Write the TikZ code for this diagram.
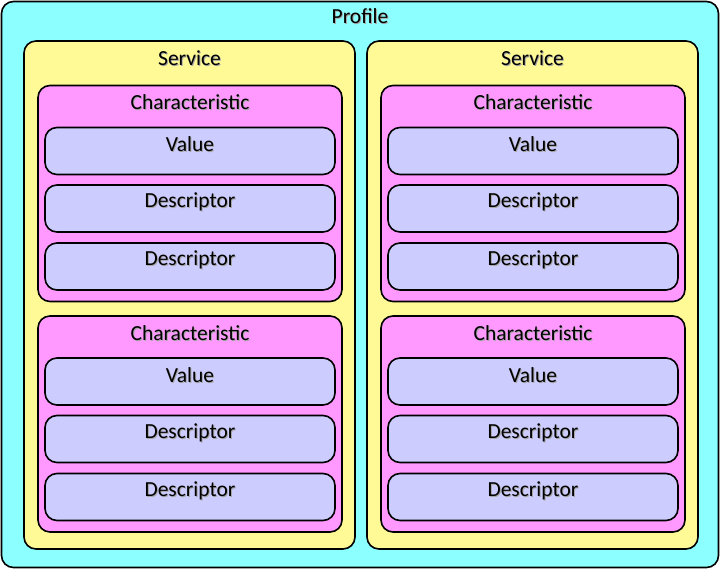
\documentclass[tikz,border=0pt]{standalone}
\usepackage{fontspec}
\setmainfont{Carlito}
\definecolor{profilecol}{RGB}{140,255,255}
\definecolor{servicecol}{RGB}{255,250,150}
\definecolor{charcol}{RGB}{255,153,255}
\definecolor{fieldcol}{RGB}{204,204,255}
\newcommand{\shtext}[1]{\makebox[0pt][l]{\hspace{1pt}\raisebox{-1pt}{\textcolor{black!35}{#1}}}#1}
\tikzset{
  box/.style={draw=black, line width=1.6pt, rounded corners=12pt, inner sep=0pt},
  profilebox/.style={box, fill=profilecol, minimum width=717pt, minimum height=566pt},
  servicebox/.style={box, fill=servicecol, minimum width=331pt, minimum height=508pt},
  charbox/.style={box, fill=charcol, minimum width=304pt, minimum height=216pt},
  fieldbox/.style={box, fill=fieldcol, minimum width=290pt, minimum height=47pt},
  title/.style={font=\fontsize{21.5}{25}\selectfont, inner sep=0pt}
}
\begin{document}
\begin{tikzpicture}[x=1pt, y=-1pt]
  \useasboundingbox (0,0) rectangle (720,569);
  \node[profilebox] (profile) at (360,284.5) {};
  \node[title] (profile-t) at (360,17) {\shtext{Profile}};
  \foreach \sx/\sn in {189.5/L, 532.5/R} {
    \node[servicebox] (service-\sn) at (\sx,295) {};
    \node[title] (service-\sn-t) at (\sx,59) {\shtext{Service}};
    \foreach \cy/\cn in {193.5/a, 424/b} {
      \node[charbox] (char-\sn-\cn) at (\sx+0.5,\cy) {};
      \node[title] (char-\sn-\cn-t) at (\sx+0.5,\cy-90.5) {\shtext{Characteristic}};
      \node[fieldbox] (value-\sn-\cn) at (\sx+0.5,\cy-42.5) {};
      \node[title] (value-\sn-\cn-t) at (\sx+0.5,\cy-48.5) {\shtext{Value}};
      \node[fieldbox] (desca-\sn-\cn) at (\sx+0.5,\cy+15) {};
      \node[title] (desca-\sn-\cn-t) at (\sx+0.5,\cy+9) {\shtext{Descriptor}};
      \node[fieldbox] (descb-\sn-\cn) at (\sx+0.5,\cy+73) {};
      \node[title] (descb-\sn-\cn-t) at (\sx+0.5,\cy+67) {\shtext{Descriptor}};
    }
  }
\end{tikzpicture}
\end{document}
